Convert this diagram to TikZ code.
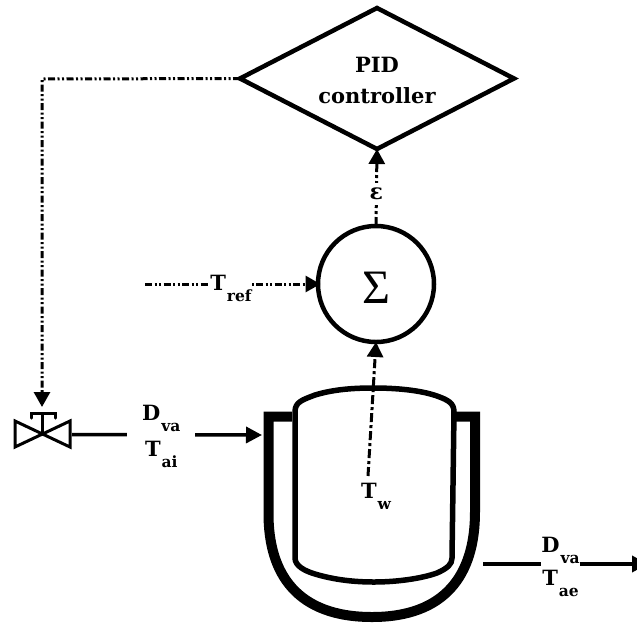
\documentclass[tikz,border=0pt]{standalone}
\usepackage{fontspec}
\setmainfont{DejaVu Serif}
\newfontfamily\sumfont{Liberation Serif}
\usetikzlibrary{arrows.meta,shapes.geometric}
\newcommand{\lblsub}[2]{#1\kern1pt\raisebox{-11pt}{\fontsize{15.5}{16}\selectfont #2}}
\tikzset{
  sig/.style={line width=3pt,dash pattern=on 7pt off 2.5pt on 2pt off 2.5pt on 2pt off 2.5pt,-{Triangle[length=15pt,width=16pt]}},
  sigb/.style={line width=3pt,dash pattern=on 9pt off 3pt on 3pt off 3pt,-{Triangle[length=15pt,width=16pt]}},
  flow/.style={line width=3.5pt,-{Triangle[length=16pt,width=16pt]}},
  txt/.style={font=\bfseries\fontsize{21}{36}\selectfont,align=center,inner sep=0pt,fill=white},
}
\begin{document}
\begin{tikzpicture}[x=1pt,y=-1pt]
\useasboundingbox (0,0) rectangle (637,622);
\clip (0,0) rectangle (637,622);
% PID and summing junction
\node[diamond,draw,line width=4.5pt,inner sep=0pt,minimum width=274pt,minimum height=141pt,aspect=1.94,outer sep=0pt,font=\bfseries\fontsize{21}{30}\selectfont,align=center] (pid) at (377,78.5) {\rule{0pt}{20pt}PID\\[1pt]controller};
\node[circle,draw,line width=4.5pt,minimum size=116pt,inner sep=0pt,outer sep=0pt,font=\sumfont\fontsize{48}{48}\selectfont] (sum) at (376,284) {\raisebox{-3.5pt}[32pt][0pt]{Σ}};
% vessel
\draw[line width=10pt,line join=miter] (292,416.5) -- (268.5,416.5) -- (268.5,512) .. controls (268,575) and (298,617) .. (372,617) .. controls (445,617) and (475,575) .. (475,512) -- (475,416.5) -- (456,416.5);
\draw[line width=5.5pt,fill=white] (295,412) .. controls (295,402) and (302,400) .. (315,395) .. controls (335,389) and (355,388) .. (374,388) .. controls (395,388) and (420,390) .. (437,396) .. controls (448,400) and (454,403) .. (454,412) -- (452,558) .. controls (452,564) and (448,568) .. (437,573) .. controls (420,579) and (395,582) .. (374,582) .. controls (355,582) and (335,580) .. (315,574) .. controls (305,571) and (295,566) .. (295,558) -- cycle;
% valve
\draw[line width=3pt,line join=miter] (15,421) -- (70,447) -- (70,421) -- (15,447) -- cycle;
\draw[line width=3pt,line cap=round] (31,418) -- (31,413.5) -- (55,413.5) -- (55,418);
\draw[line width=3pt] (42,413.5) -- (42,433);
% anchors
\coordinate (valvetop) at (42,407);
\coordinate (pidcorner) at (42,79);
\coordinate (valveout) at (72,434.5);
\coordinate (jacketin) at (262,435);
\coordinate (jacketout) at (483,564);
\coordinate (outend) at (648,564);
\coordinate (trefstart) at (145,284);
\coordinate (twtop) at (368,476);
% connectors
\draw[sig] (pid.west) -- (pidcorner) -- (valvetop);
\draw[sigb] (sum.north) -- (pid.south) node[pos=.42,font=\bfseries\fontsize{22}{22}\selectfont,fill=white,inner xsep=0pt,inner ysep=5pt] (eps) {ε};
\draw[sig,shorten >=-2.5pt] (trefstart) -- (sum.west) node[pos=.497,txt,anchor=center,yshift=-4pt] (tref) {\lblsub{T}{ref}};
\draw[sigb] (twtop) -- (sum.south);
\node[font=\bfseries\fontsize{21}{36}\selectfont,inner sep=0pt] (tw) at (376,496) {\lblsub{T}{w}};
\draw[flow] (valveout) -- (jacketin) node[pos=.47,txt,inner xsep=15pt,yshift=-2pt] (inlabel) {\lblsub{D}{va}\\\lblsub{T}{ai}};
\draw[flow] (jacketout) -- (outend) node[pos=.47,txt,yshift=-3pt] (outlabel) {\lblsub{D}{va}\\[-3pt]\lblsub{T}{ae}};
\end{tikzpicture}
\end{document}
